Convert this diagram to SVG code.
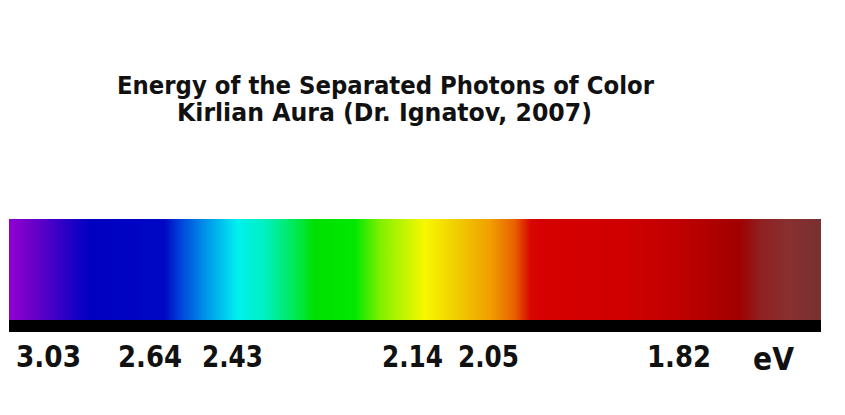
<svg xmlns="http://www.w3.org/2000/svg" width="845" height="415" viewBox="0 0 845 415">
<style>
.t{font-family:"DejaVu Sans","Liberation Sans",sans-serif;font-weight:bold;fill:#111;}
.title{font-size:25px;}
.lbl{font-size:30px;}
</style>
<defs>
<linearGradient id="spec" x1="9" y1="0" x2="821" y2="0" gradientUnits="userSpaceOnUse">
<stop offset="0" stop-color="#9000d0"/>
<stop offset="0.03" stop-color="#6a00c8"/>
<stop offset="0.081" stop-color="#1800c4"/>
<stop offset="0.1" stop-color="#0000c0"/>
<stop offset="0.192" stop-color="#0008c4"/>
<stop offset="0.21" stop-color="#0040d8"/>
<stop offset="0.241" stop-color="#0090e8"/>
<stop offset="0.281" stop-color="#00f0f0"/>
<stop offset="0.315" stop-color="#00f0c0"/>
<stop offset="0.358" stop-color="#00e840"/>
<stop offset="0.377" stop-color="#00e000"/>
<stop offset="0.426" stop-color="#00e800"/>
<stop offset="0.457" stop-color="#80f000"/>
<stop offset="0.512" stop-color="#f8f800"/>
<stop offset="0.549" stop-color="#f0d000"/>
<stop offset="0.592" stop-color="#f0a000"/>
<stop offset="0.623" stop-color="#e86000"/>
<stop offset="0.642" stop-color="#d80800"/>
<stop offset="0.654" stop-color="#d60000"/>
<stop offset="0.752" stop-color="#d00000"/>
<stop offset="0.826" stop-color="#c00000"/>
<stop offset="0.9" stop-color="#a00000"/>
<stop offset="0.925" stop-color="#902020"/>
<stop offset="0.962" stop-color="#883030"/>
<stop offset="1" stop-color="#783030"/>
</linearGradient>
</defs>
<rect width="845" height="415" fill="#ffffff"/>
<g id="title">
<text class="t title" x="117" y="94" textLength="537" lengthAdjust="spacingAndGlyphs">Energy of the Separated Photons of Color</text>
<text class="t title" x="177" y="121" textLength="415" lengthAdjust="spacingAndGlyphs">Kirlian Aura (Dr. Ignatov, 2007)</text>
</g>
<g id="spectrum">
<rect x="9" y="219" width="812" height="102" fill="url(#spec)"/>
<rect x="9" y="320" width="812" height="12" fill="#000000"/>
</g>
<g id="labels">
<text class="t lbl" x="16" y="367" textLength="65" lengthAdjust="spacingAndGlyphs">3.03</text>
<text class="t lbl" x="118" y="367" textLength="64" lengthAdjust="spacingAndGlyphs">2.64</text>
<text class="t lbl" x="202" y="367" textLength="61" lengthAdjust="spacingAndGlyphs">2.43</text>
<text class="t lbl" x="382" y="367" textLength="61" lengthAdjust="spacingAndGlyphs">2.14</text>
<text class="t lbl" x="458" y="367" textLength="61" lengthAdjust="spacingAndGlyphs">2.05</text>
<text class="t lbl" x="647" y="367" textLength="64" lengthAdjust="spacingAndGlyphs">1.82</text>
<text class="t lbl" x="753" y="370" textLength="41" lengthAdjust="spacingAndGlyphs" style="font-size:32px">eV</text>
</g>
</svg>
